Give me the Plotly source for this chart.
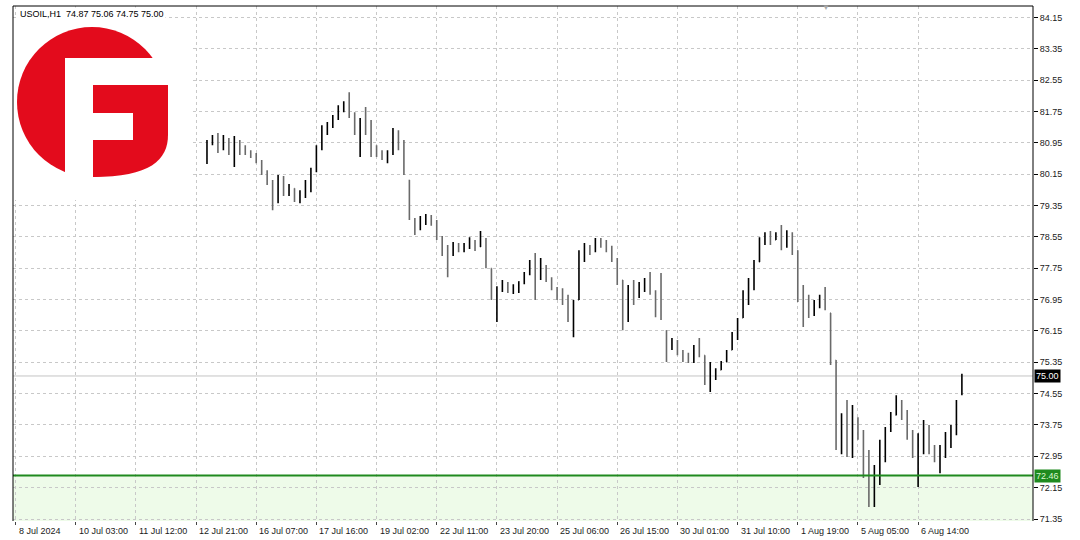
import plotly.graph_objects as go

# --- data (USOIL, H1, one mark = 3 hours) ---
SYMBOL_TITLE = "USOIL,H1  74.87 75.06 74.75 75.00"
FIRST_BAR = 35          # bars before this sit under the logo box
BARS_PER_LABEL = 11

bar_open = [
    80.55, 80.95, 81.05, 80.85, 81.00, 80.80, 80.95, 80.80, 80.70, 80.62,
    80.48, 80.20, 79.95, 79.60, 79.95, 79.70, 79.78, 79.55, 79.65, 79.90,
    80.25, 80.80, 81.30, 81.40, 81.60, 81.85, 81.90, 81.65, 81.25, 81.40,
    81.30, 80.75, 80.70, 80.60, 80.70, 81.15, 80.95, 80.00, 79.00, 78.75,
    78.95, 79.05, 78.95, 78.55, 78.20, 78.10, 78.30, 78.25, 78.30, 78.45,
    78.30, 78.50, 77.75, 77.05, 77.20, 77.35, 77.20, 77.30, 77.40, 77.60,
    77.90, 77.60, 77.80, 77.50, 77.25, 77.05, 76.95, 76.50, 76.94, 78.10,
    78.30, 78.20, 78.45, 78.35, 78.25, 77.95, 77.45, 76.90, 77.20, 77.10,
    77.30, 77.40, 77.15, 76.70, 76.15, 75.70, 75.85, 75.60, 75.45, 75.40,
    75.70, 75.53, 74.95, 75.05, 75.15, 75.36, 75.66, 76.00, 76.48, 77.00,
    77.30, 77.91, 78.45, 78.55, 78.47, 78.60, 78.40, 78.65, 78.20, 77.00,
    76.70, 76.60, 76.80, 76.95, 76.61, 75.40, 73.40, 73.80, 73.30, 73.90,
    73.50, 72.70, 71.90, 72.50, 73.20, 73.60, 74.00, 74.30, 74.00, 73.50,
    73.10, 73.40, 73.60, 73.15, 72.95, 73.10, 73.45, 73.55, 74.55,
]
bar_high = [
    81.02, 81.15, 81.20, 81.15, 81.07, 81.12, 81.02, 80.89, 80.76, 80.69,
    80.51, 80.25, 80.00, 80.13, 80.10, 79.90, 79.79, 79.74, 80.00, 80.31,
    80.89, 81.40, 81.48, 81.66, 81.91, 82.01, 82.24, 81.73, 81.58, 81.86,
    81.53, 80.89, 80.76, 80.76, 81.33, 81.27, 81.02, 80.00, 79.03, 79.08,
    79.13, 79.11, 78.98, 78.57, 78.34, 78.42, 78.39, 78.39, 78.54, 78.47,
    78.70, 78.52, 77.75, 77.29, 77.45, 77.40, 77.34, 77.42, 77.65, 77.96,
    78.14, 78.01, 77.83, 77.52, 77.27, 77.24, 77.07, 76.94, 78.21, 78.39,
    78.34, 78.52, 78.52, 78.47, 78.32, 78.01, 77.45, 77.32, 77.45, 77.40,
    77.50, 77.65, 77.19, 77.63, 76.17, 75.97, 75.92, 75.66, 75.59, 75.79,
    75.97, 75.53, 75.36, 75.20, 75.38, 75.66, 76.12, 76.48, 77.19, 77.50,
    77.96, 78.54, 78.67, 78.70, 78.67, 78.85, 78.72, 78.67, 78.21, 77.32,
    77.07, 76.94, 77.07, 77.27, 76.61, 75.41, 74.05, 74.39, 74.26, 73.95,
    73.62, 73.11, 72.73, 73.37, 73.70, 74.08, 74.51, 74.39, 74.13, 73.62,
    73.54, 73.88, 73.75, 73.24, 73.24, 73.57, 73.75, 74.39, 75.06,
]
bar_low = [
    80.41, 80.89, 80.69, 80.76, 80.64, 80.33, 80.64, 80.64, 80.56, 80.43,
    80.13, 79.87, 79.23, 79.41, 79.59, 79.59, 79.44, 79.41, 79.54, 79.69,
    80.20, 80.76, 81.15, 81.33, 81.53, 81.73, 81.58, 81.15, 80.59, 81.15,
    80.59, 80.59, 80.51, 80.43, 80.64, 80.76, 80.13, 78.98, 78.60, 78.72,
    78.85, 78.83, 78.47, 78.06, 77.52, 78.06, 78.16, 78.16, 78.24, 78.19,
    78.29, 77.75, 76.94, 76.38, 77.14, 77.12, 77.09, 77.12, 77.34, 77.57,
    76.94, 77.45, 77.40, 77.19, 76.94, 76.81, 76.38, 75.99, 76.94, 77.91,
    78.09, 78.16, 78.27, 78.16, 77.91, 77.32, 76.17, 76.38, 76.81, 76.99,
    77.14, 77.07, 76.50, 76.43, 75.36, 75.66, 75.53, 75.36, 75.33, 75.33,
    75.48, 74.77, 74.59, 74.90, 75.15, 75.36, 75.66, 75.92, 76.48, 76.81,
    77.19, 77.91, 78.34, 78.34, 78.47, 78.21, 78.27, 78.09, 76.89, 76.25,
    76.48, 76.53, 76.73, 76.68, 75.28, 73.11, 73.00, 72.93, 72.91, 73.37,
    72.40, 71.66, 71.66, 72.22, 72.80, 73.57, 74.00, 73.88, 73.37, 72.91,
    72.17, 73.00, 73.00, 72.80, 72.52, 72.91, 73.16, 73.49, 74.51,
]
bar_close = [
    80.95, 81.05, 80.85, 81.00, 80.80, 80.95, 80.80, 80.70, 80.62, 80.48,
    80.20, 79.95, 79.60, 79.95, 79.70, 79.80, 79.55, 79.65, 79.90, 80.25,
    80.80, 81.30, 81.40, 81.60, 81.85, 81.90, 81.65, 81.25, 81.40, 81.30,
    80.75, 80.70, 80.60, 80.70, 81.15, 80.95, 80.20, 79.00, 78.75, 78.95,
    79.05, 78.95, 78.55, 78.20, 78.10, 78.30, 78.25, 78.30, 78.45, 78.30,
    78.60, 77.85, 77.05, 77.20, 77.35, 77.20, 77.30, 77.40, 77.60, 77.90,
    77.60, 77.80, 77.50, 77.25, 77.05, 76.95, 76.50, 76.80, 78.10, 78.30,
    78.20, 78.45, 78.35, 78.25, 77.95, 77.45, 76.90, 77.20, 77.10, 77.30,
    77.40, 77.15, 76.70, 76.50, 75.70, 75.85, 75.60, 75.45, 75.40, 75.70,
    75.55, 74.95, 75.05, 75.15, 75.35, 75.60, 76.00, 76.40, 77.00, 77.30,
    77.90, 78.45, 78.55, 78.45, 78.60, 78.40, 78.65, 78.20, 77.00, 76.70,
    76.60, 76.80, 76.95, 76.70, 75.40, 73.40, 73.80, 73.30, 73.90, 73.50,
    72.70, 71.90, 72.50, 73.20, 73.60, 74.00, 74.30, 74.00, 73.50, 73.10,
    73.40, 73.60, 73.15, 72.95, 73.10, 73.45, 73.55, 74.30, 75.00,
]

x_tick_labels = [
    "8 Jul 2024", "10 Jul 03:00", "11 Jul 12:00", "12 Jul 21:00",
    "16 Jul 07:00", "17 Jul 16:00", "19 Jul 02:00", "22 Jul 11:00",
    "23 Jul 20:00", "25 Jul 06:00", "26 Jul 15:00", "30 Jul 01:00",
    "31 Jul 10:00", "1 Aug 19:00", "5 Aug 05:00", "6 Aug 14:00",
]
price_ticks = [84.15, 83.35, 82.55, 81.75, 80.95, 80.15, 79.35, 78.55,
               77.75, 76.95, 76.15, 75.35, 74.55, 73.75, 72.95, 72.15, 71.35]
last_price = 75.00
level_price = 72.46
y_range = [71.30, 84.44]
x_range = [-0.46, 186.0]

# plot box in screen pixels, used for the logo / overlay positions
PL, PR, PT, PB = 13, 1033, 6, 521
W, H = 1080, 540


def px(x):
    return (x - PL) / (PR - PL)


def py(y):
    return (PB - y) / (PB - PT)


FONT = "Liberation Sans"
GRID = "#c8c8c8"
LOGO_RED = "#e30b1c"

bar_x = list(range(FIRST_BAR, FIRST_BAR + len(bar_close)))
tick_x = [i * BARS_PER_LABEL for i in range(len(x_tick_labels))]

fig = go.Figure()
fig.add_trace(go.Ohlc(
    x=bar_x, open=bar_open, high=bar_high, low=bar_low, close=bar_close,
    increasing=dict(line=dict(color="#000000", width=1.6)),
    decreasing=dict(line=dict(color="#6a6a6a", width=1.6)),
    tickwidth=0.1, hoverinfo="skip", showlegend=False,
))

shapes = []
# green zone below the level + level line
shapes.append(dict(type="rect", xref="paper", yref="y", x0=0, x1=1,
                   y0=y_range[0], y1=level_price, fillcolor="#eefbe9",
                   line=dict(width=0), layer="below"))
shapes.append(dict(type="line", xref="paper", yref="y", x0=0, x1=1,
                   y0=last_price, y1=last_price,
                   line=dict(color="#c4c4c4", width=1), layer="below"))
shapes.append(dict(type="line", xref="paper", yref="y", x0=0, x1=1,
                   y0=level_price, y1=level_price,
                   line=dict(color="#1f8a1f", width=2), layer="above"))

# logo: white box, red circle, red block, white "F" cut-outs
shapes.append(dict(type="rect", xref="paper", yref="paper",
                   x0=px(13), x1=px(193), y0=py(200), y1=py(18),
                   fillcolor="white", line=dict(width=0)))
shapes.append(dict(type="circle", xref="paper", yref="paper",
                   x0=px(17), x1=px(167), y0=py(177), y1=py(27),
                   fillcolor=LOGO_RED, line=dict(width=0)))
blk = [(93, 85), (168, 85), (168, 135), (168, 160), (150, 177), (93, 177)]
bp = [(px(a), py(b)) for a, b in blk]
shapes.append(dict(
    type="path", xref="paper", yref="paper",
    path=(f"M {bp[0][0]},{bp[0][1]} L {bp[1][0]},{bp[1][1]} L {bp[2][0]},{bp[2][1]} "
          f"C {bp[3][0]},{bp[3][1]} {bp[4][0]},{bp[4][1]} {bp[5][0]},{bp[5][1]} Z"),
    fillcolor=LOGO_RED, line=dict(width=0)))
for x0, x1, y0, y1 in [(65, 93, 58, 183), (65, 172, 58, 85), (65, 133, 113, 140)]:
    shapes.append(dict(type="rect", xref="paper", yref="paper",
                       x0=px(x0), x1=px(x1), y0=py(y1), y1=py(y0),
                       fillcolor="white", line=dict(width=0)))

# chart frame (left, top, right)
for x0, x1, y0, y1 in [(0, 0, 0, 1), (0, 1, 1, 1), (1, 1, 0, 1)]:
    shapes.append(dict(type="line", xref="paper", yref="paper",
                       x0=x0, x1=x1, y0=y0, y1=y1,
                       line=dict(color="#000000", width=1)))

annotations = []
annotations.append(dict(xref="paper", yref="paper", x=px(18), y=py(14),
                        xanchor="left", yanchor="middle", showarrow=False,
                        text=SYMBOL_TITLE, bgcolor="white",
                        font=dict(family=FONT, size=9, color="#000000")))
for tx, lab in zip(tick_x, x_tick_labels):
    annotations.append(dict(xref="x", yref="paper", x=tx, y=py(531),
                            xanchor="left", yanchor="middle", xshift=1,
                            showarrow=False, text=lab,
                            font=dict(family=FONT, size=9, color="#1a1a1a")))
annotations.append(dict(xref="paper", yref="y", x=px(1034), y=last_price,
                        xanchor="left", yanchor="middle", showarrow=False,
                        text=f"{last_price:.2f}", bgcolor="#000000",
                        borderpad=1,
                        font=dict(family=FONT, size=9, color="#ffffff")))
annotations.append(dict(xref="paper", yref="y", x=px(1034), y=level_price,
                        xanchor="left", yanchor="middle", showarrow=False,
                        text=f"{level_price:.2f}", bgcolor="#1f8a1f",
                        borderpad=1,
                        font=dict(family=FONT, size=9, color="#d9f7cf")))
annotations.append(dict(xref="paper", yref="paper", x=px(826), y=py(8),
                        xanchor="center", yanchor="middle", showarrow=False,
                        text="▼", font=dict(size=8, color="#a8a8a8")))

fig.update_layout(
    width=W, height=H,
    margin=dict(l=PL, r=W - PR, t=PT, b=H - PB, autoexpand=False),
    paper_bgcolor="white", plot_bgcolor="white",
    font=dict(family=FONT, size=9, color="#1a1a1a"),
    shapes=shapes, annotations=annotations, showlegend=False,
    xaxis=dict(range=x_range, tickvals=tick_x, showticklabels=False,
               ticks="outside", ticklen=3, tickcolor="#444444",
               showgrid=True, gridcolor=GRID, griddash="3px,3px",
               zeroline=False, showline=False, rangeslider=dict(visible=False),
               fixedrange=True),
    yaxis=dict(range=y_range, side="right", tickvals=price_ticks,
               ticktext=[f"{v:.2f}" for v in price_ticks],
               ticks="outside", ticklen=4, tickcolor="#000000",
               tickfont=dict(family=FONT, size=9, color="#1a1a1a"),
               showgrid=True, gridcolor=GRID, griddash="3px,3px",
               zeroline=False, showline=False, fixedrange=True),
)

# the page body has an 8px default margin; drop it so the chart sits at 0,0
fig.write_html("out.html",
               post_script="document.body.style.margin='0';",
               config={"displayModeBar": False})
